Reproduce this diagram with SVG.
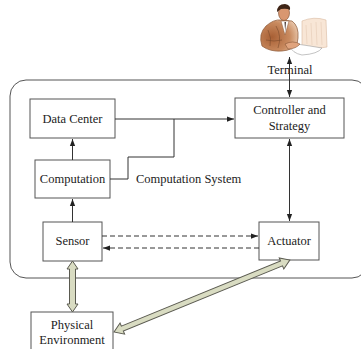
<svg xmlns="http://www.w3.org/2000/svg" width="361" height="349" viewBox="0 0 361 349">
  <style>
    .box { fill: #ffffff; stroke: #555555; stroke-width: 1; }
    .lbl { font-family: "Liberation Serif", "Times New Roman", serif; font-size: 12.5px; fill: #222222; text-anchor: middle; }
    .wire { fill: none; stroke: #333333; stroke-width: 1; }
    .dash { fill: none; stroke: #333333; stroke-width: 1; stroke-dasharray: 5 3; }
    .fat { fill: #d9dcc2; stroke: #5a5a50; stroke-width: 1; }
    .sketch { fill: none; stroke: #7a4a2c; stroke-width: 0.6; }
  </style>
  <defs>
    <marker id="ah" viewBox="0 0 8 8" refX="8" refY="4" markerWidth="7" markerHeight="7" orient="auto-start-reverse" markerUnits="userSpaceOnUse">
      <path d="M0,1 L8,4 L0,7 Z" fill="#222222"/>
    </marker>
    <radialGradient id="suit" cx="0.3" cy="0.55" r="0.8">
      <stop offset="0" stop-color="#a85f34"/>
      <stop offset="0.6" stop-color="#c98b60"/>
      <stop offset="1" stop-color="#f0d4bc"/>
    </radialGradient>
  </defs>
  <rect width="361" height="349" fill="#ffffff"/>

  <!-- computation system boundary -->
  <g id="system">
    <rect x="10" y="80" width="358" height="198" rx="16" ry="16" fill="none" stroke="#555555" stroke-width="1"/>
    <text class="lbl" x="136" y="183" style="text-anchor:start">Computation System</text>
  </g>

  <!-- operator at workstation -->
  <g id="terminal">
    <path d="M302,21 Q314,16 326,20 L327,47 Q314,50 302,48 Z" fill="#f8e6d6" stroke="#d8b8a0" stroke-width="0.6"/>
    <path d="M306,25 L307,44 M311,23 L312,45 M316,22 L317,45 M321,22 L322,45" stroke="#e0c4ae" stroke-width="0.5" fill="none"/>
    <path d="M262,46 Q258,34 266,26 Q274,19 281,20 L292,21 Q299,26 298,38 L297,44 Q293,50 282,51 Q270,52 262,46 Z" fill="url(#suit)" stroke="#8a5532" stroke-width="0.7"/>
    <path class="sketch" d="M268,30 Q272,38 270,46 M276,26 Q282,36 278,48 M266,40 Q274,42 282,40"/>
    <path d="M281,21 L285,35 L289,21 Z" fill="#ffffff" stroke="#8a5532" stroke-width="0.5"/>
    <path d="M284.5,22 L285.2,32 L286,22 Z" fill="#4a3a35"/>
    <ellipse cx="284" cy="13" rx="5.5" ry="7.5" fill="#d99770" stroke="#7a4a2c" stroke-width="0.6"/>
    <path d="M277,12 Q277,4 285,4 Q291,5 290,10 Q287,8 281,9 Z" fill="#3e2416"/>
    <path d="M290,46 Q300,43 310,46 L322,48 Q318,54 302,55 Q292,53 290,46 Z" fill="#ffffff" stroke="#9a9a9a" stroke-width="0.6"/>
    <path d="M285,44 Q293,40 300,44 Q296,49 288,49 Z" fill="#e0a47e" stroke="#7a4a2c" stroke-width="0.5"/>
    <text class="lbl" x="290" y="74">Terminal</text>
  </g>

  <g id="data-center">
    <rect class="box" x="30" y="99" width="85" height="39"/>
    <text class="lbl" x="72.5" y="122.5">Data Center</text>
  </g>

  <g id="computation">
    <rect class="box" x="35" y="160" width="75" height="38"/>
    <text class="lbl" x="72.5" y="183">Computation</text>
  </g>

  <g id="sensor">
    <rect class="box" x="43" y="222" width="59" height="39"/>
    <text class="lbl" x="72.5" y="245">Sensor</text>
  </g>

  <g id="controller">
    <rect class="box" x="235" y="98" width="109" height="40"/>
    <text class="lbl" x="289.5" y="114">Controller and</text>
    <text class="lbl" x="289.5" y="130">Strategy</text>
  </g>

  <g id="actuator">
    <rect class="box" x="259" y="222" width="60" height="38"/>
    <text class="lbl" x="289" y="245">Actuator</text>
  </g>

  <g id="physical-environment">
    <rect class="box" x="31" y="312" width="82" height="45"/>
    <text class="lbl" x="72" y="329">Physical</text>
    <text class="lbl" x="72" y="344">Environment</text>
  </g>

  <g id="connectors">
    <line class="wire" x1="72.5" y1="160" x2="72.5" y2="139" marker-end="url(#ah)"/>
    <line class="wire" x1="72.5" y1="222" x2="72.5" y2="199" marker-end="url(#ah)"/>
    <line class="wire" x1="115" y1="119" x2="234" y2="119" marker-end="url(#ah)"/>
    <polyline class="wire" points="110,179 128,179 128,157 174,157 174,119"/>
    <line class="wire" x1="289.5" y1="139" x2="289.5" y2="221" marker-start="url(#ah)" marker-end="url(#ah)"/>
    <line class="wire" x1="289.5" y1="57" x2="289.5" y2="97" marker-start="url(#ah)" marker-end="url(#ah)"/>
    <line class="dash" x1="102" y1="236" x2="258" y2="236" marker-end="url(#ah)"/>
    <line class="dash" x1="259" y1="248" x2="103" y2="248" marker-end="url(#ah)"/>
    <polygon class="fat" points="72.5,261 78,269 75.5,269 75.5,304 78,304 72.5,312 67,304 69.5,304 69.5,269 67,269"/>
    <polygon class="fat" transform="translate(114,332) rotate(-22.25)" points="0,0 9,-6 9,-2.6 181,-2.6 181,-6 190,0 181,6 181,2.6 9,2.6 9,6"/>
  </g>
</svg>
